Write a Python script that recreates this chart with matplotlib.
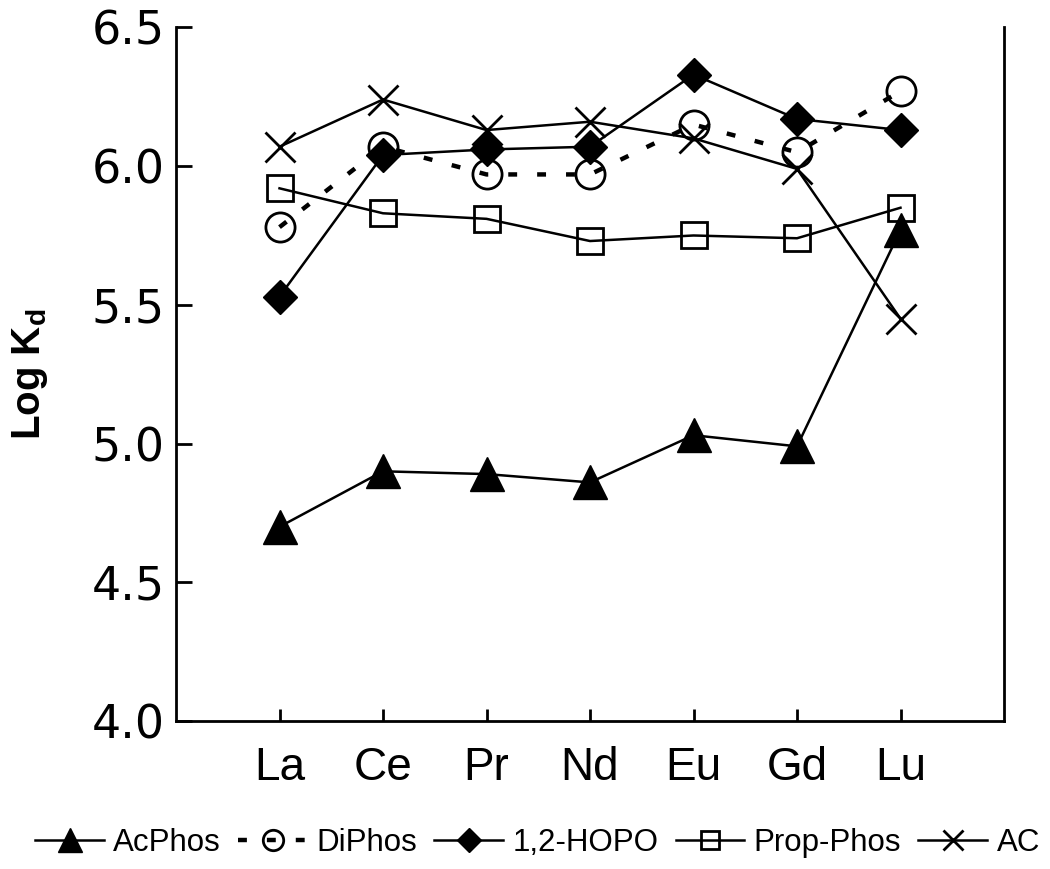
import matplotlib
matplotlib.use("Agg")
import matplotlib.pyplot as plt

plt.rcParams['font.family'] = ['Liberation Sans', 'DejaVu Sans']
plt.rcParams['mathtext.fontset'] = 'custom'
plt.rcParams['mathtext.rm'] = 'Liberation Sans:bold'
plt.rcParams['mathtext.bf'] = 'Liberation Sans:bold'

elements = ["La", "Ce", "Pr", "Nd", "Eu", "Gd", "Lu"]
acphos = [4.70, 4.90, 4.89, 4.86, 5.03, 4.99, 5.77]
diphos = [5.78, 6.07, 5.97, 5.97, 6.15, 6.05, 6.27]
hopo = [5.53, 6.04, 6.06, 6.07, 6.33, 6.17, 6.13]
propphos = [5.92, 5.83, 5.81, 5.73, 5.75, 5.74, 5.85]
ac = [6.07, 6.24, 6.13, 6.16, 6.10, 5.99, 5.45]
yticks = [4.0, 4.5, 5.0, 5.5, 6.0, 6.5]

fig = plt.figure(figsize=(10.5, 8.69), dpi=100)
ax = fig.add_axes([176/1050, 148/869, (1004-176)/1050, (721-27.4)/869])

x = list(range(1, len(elements) + 1))
lw = 1.8
mew = 2.0
ax.plot(x, acphos, color='black', lw=lw, marker='^', ms=24, mfc='black', mec='black', label='AcPhos')
ax.plot(x, diphos, color='black', lw=3.2, ls=(0, (2.0, 4.5)), marker='o', ms=21, mfc='none', mec='black', mew=mew, label='DiPhos')
ax.plot(x, hopo, color='black', lw=lw, marker='D', ms=17, mfc='black', mec='black', label='1,2-HOPO')
ax.plot(x, propphos, color='black', lw=lw, marker='s', ms=19, mfc='none', mec='black', mew=mew, label='Prop-Phos')
ax.plot(x, ac, color='black', lw=lw, marker='x', ms=21, mec='black', mew=mew, label='AC')

ax.set_xlim(0, len(elements) + 1)
ax.set_ylim(4.0, 6.5)
ax.set_xticks(x)
ax.set_xticklabels(elements, fontsize=33)
ax.set_yticks(yticks)
ax.set_yticklabels([f"{v:.1f}" for v in yticks], fontsize=33, family='DejaVu Sans')
ax.tick_params(axis='x', direction='in', length=9, width=2, pad=18, bottom=True, top=False)
ax.tick_params(axis='y', direction='in', length=11.5, width=2, pad=8, left=True, right=False)
ax.spines['top'].set_visible(False)
for s in ['left', 'bottom', 'right']:
    ax.spines[s].set_linewidth(2)

ax.set_ylabel(r'Log K$_{\mathrm{d}}$', fontsize=29, fontweight='bold', labelpad=30)

handles, labels = ax.get_legend_handles_labels()
fig.legend(handles, labels, loc='center', bbox_to_anchor=(0.512, 26/869), ncol=5,
           frameon=False, fontsize=22.5, handlelength=2.2, handletextpad=0.3,
           columnspacing=0.55, markerscale=0.7, borderpad=0)

fig.savefig("out.png", dpi=100)
